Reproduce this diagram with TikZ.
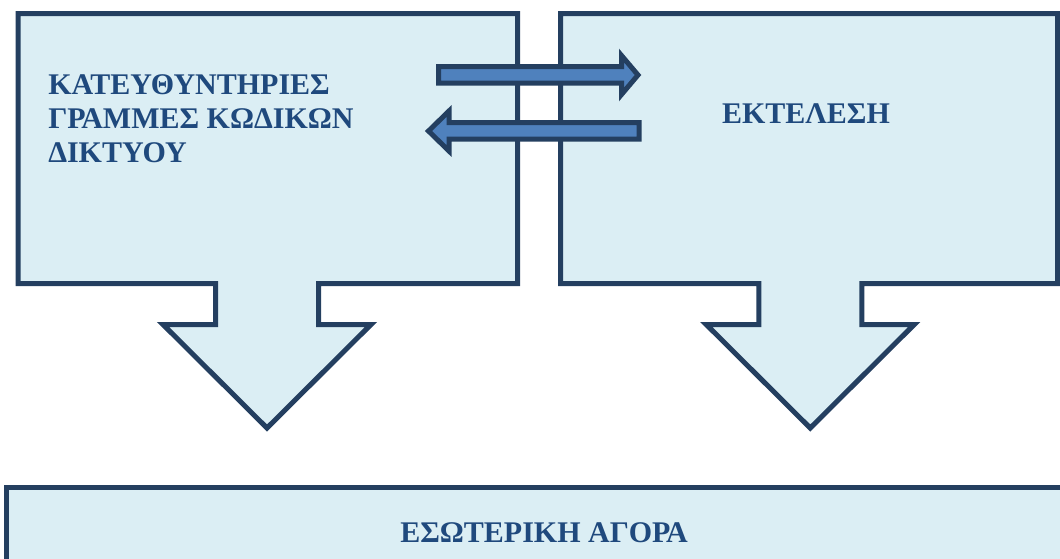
\documentclass[tikz,border=0pt]{standalone}
\usepackage{fontspec}
\setmainfont{Liberation Serif}[BoldFont={Liberation Serif Bold}]
\usetikzlibrary{positioning}
\definecolor{BoxFill}{HTML}{DBEEF4}
\definecolor{BoxLine}{HTML}{243F60}
\definecolor{FlowFill}{HTML}{4F81BD}
\definecolor{Label}{HTML}{1F497D}
\tikzset{
  callout/.style={draw=BoxLine,fill=BoxFill,line width=3.75pt,miter limit=4},
  flowarrow/.style={draw=BoxLine,fill=FlowFill,line width=3.75pt,miter limit=4},
  boxtext/.style={text=Label,inner sep=0pt,
    font=\fontsize{22.5}{25.5}\selectfont\bfseries},
}

\begin{document}
\begin{tikzpicture}[x=0.75pt,y=-0.75pt]
        \useasboundingbox (0,0) rectangle (1060,558);
        \clip (0,0) rectangle (1060,558);
        % the two callouts with their down arrows
        \foreach \l/\r/\c in {18/517.5/267, 560.5/1057.5/810.25} {
          \draw[callout] (\l,13.5) -- (\r,13.5) -- (\r,283.5)
                -- (\c+51.5,283.5) -- (\c+51.5,324.5) -- (\c+104,324.5)
                -- (\c,428) -- (\c-104,324.5) -- (\c-51.5,324.5)
                -- (\c-51.5,283.5) -- (\l,283.5) -- cycle;
        }
        % bottom box
        \draw[callout] (6.5,487.5) rectangle (1080,580);
        % arrows between the callouts
        \draw[flowarrow] (438.5,66.5) -- (621.5,66.5) -- (621.5,55.5)
              -- (638,75) -- (621.5,94.5) -- (621.5,83.2) -- (438.5,83.2) -- cycle;
        \draw[flowarrow] (639,122.5) -- (449,122.5) -- (449,111)
              -- (428.5,131) -- (449,151) -- (449,139.2) -- (639,139.2) -- cycle;
        % labels
        \node[boxtext,align=left,anchor=west] (rules) at (48,119)
              {ΚΑΤΕΥΘΥΝΤΗΡΙΕΣ\\ΓΡΑΜΜΕΣ ΚΩΔΙΚΩΝ\\ΔΙΚΤΥΟΥ};
        \node[boxtext] (exec) at (806,114) {ΕΚΤΕΛΕΣΗ};
        \node[boxtext] (market) at (544,533) {ΕΣΩΤΕΡΙΚΗ ΑΓΟΡΑ};
      \end{tikzpicture}
\end{document}
